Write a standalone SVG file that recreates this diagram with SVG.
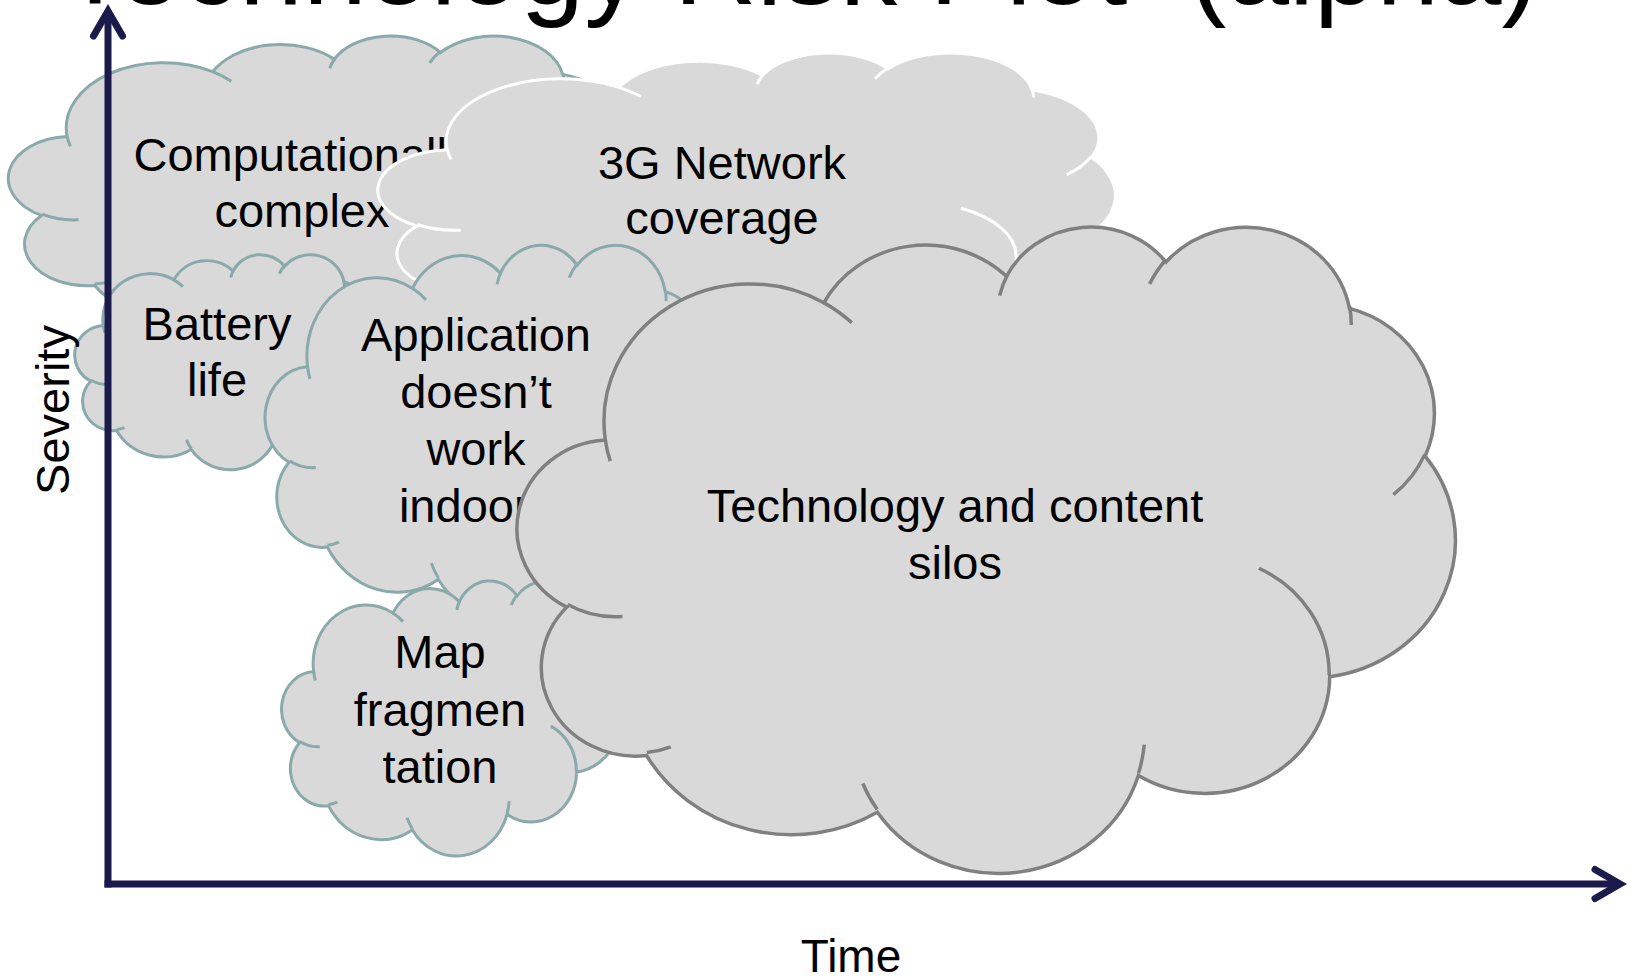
<svg xmlns="http://www.w3.org/2000/svg" xmlns:xlink="http://www.w3.org/1999/xlink" width="1635" height="978" viewBox="0 0 1635 978">
<style>
  .label { font-family: "Liberation Sans", Arial, sans-serif; font-size: 47px; fill: #000; text-anchor: middle; }
  .title { font-family: "Liberation Sans", Arial, sans-serif; font-size: 115px; fill: #000; }
  .axis-label { font-family: "Liberation Sans", Arial, sans-serif; fill: #000; text-anchor: middle; }
  .shape { fill: #d9d9d9; stroke-width: 3; }
  .teal .shape { stroke: #8aa9ab; }
  .white .shape { stroke: #ffffff; }
  .grey .shape { stroke: #808080; stroke-width: 3.5; }
  .axis { stroke: #1b1b4b; stroke-width: 7; fill: none; }
</style>
<defs>
  <path id="cloud-shape" vector-effect="non-scaling-stroke" d="M3900 14370 A6753 9190 0 0 1 14005 5202 A5333 7267 0 0 1 22456 3432 A4365 5945 0 0 1 29834 2481 A4857 6595 0 0 1 38319 5577 A5333 7273 0 0 1 41819 15461 A6775 9220 0 0 1 37405 30203 A5785 7867 0 0 1 28556 36814 A6752 9215 0 0 1 16482 39267 A7720 10543 0 0 1 5807 35475 A4360 5918 0 0 1 2116 25553 A4345 5945 0 0 1 3900 14370 Z"/>
  <path id="cloud-ticks" fill="none" vector-effect="non-scaling-stroke" d="M4693 26177 A4345 5945 0 0 1 2160 25380 M6928 34899 A4360 5918 0 0 1 5820 35280 M16478 39090 A6752 9215 0 0 1 15809 37347 M28827 34751 A6752 9215 0 0 1 28560 36660 M34129 22954 A5785 7867 0 0 1 37380 30090 M41798 15354 A5333 7273 0 0 1 40351 18029 M38324 5426 A4857 6595 0 0 1 38400 6690 M29078 3952 A4857 6595 0 0 1 29820 2339 M22141 4720 A4365 5945 0 0 1 22500 3330 M14000 5192 A6753 9190 0 0 1 15300 6540 M4127 15789 A6753 9190 0 0 1 3900 14370"/>
  <marker id="open-arrow" markerUnits="userSpaceOnUse" markerWidth="70" markerHeight="70" viewBox="-40 -35 70 70" refX="0" refY="0" orient="auto" overflow="visible">
    <path d="M-25,-14.5 L0,0 L-25,14.5" fill="none" stroke="#1b1b4b" stroke-width="7" stroke-linecap="round" stroke-linejoin="miter"/>
  </marker>
</defs>
<rect width="1635" height="978" fill="#ffffff"/>
<text class="title" y="4"><tspan x="60">Technology Risk Plot</tspan><tspan x="1189" textLength="350" lengthAdjust="spacingAndGlyphs">(alpha)</tspan></text>

<g id="node-computationally-complex" class="teal">
  <g class="shape" transform="translate(11,35) scale(0.014398,0.0070602)">
    <use href="#cloud-shape"/>
    <use href="#cloud-ticks"/>
  </g>
  <text class="label" x="302" y="171">Computationally</text>
  <text class="label" x="302" y="227">complex</text>
</g>

<g id="node-3g-network-coverage" class="white">
  <g class="shape" transform="translate(381,52) scale(0.016991,0.0068056)">
    <use href="#cloud-shape"/>
    <use href="#cloud-ticks"/>
  </g>
  <text class="label" x="722" y="179">3G Network</text>
  <text class="label" x="722" y="234">coverage</text>
</g>

<g id="node-battery-life" class="teal">
  <g class="shape" transform="translate(76,254) scale(0.0069907,0.0049769)">
    <use href="#cloud-shape"/>
    <use href="#cloud-ticks"/>
  </g>
  <text class="label" x="217" y="340">Battery</text>
  <text class="label" x="217" y="396">life</text>
</g>

<g id="node-application-indoors" class="teal">
  <g class="shape" transform="translate(267,244) scale(0.010394,0.0085417)">
    <use href="#cloud-shape"/>
    <use href="#cloud-ticks"/>
  </g>
  <text class="label" x="476" y="351">Application</text>
  <text class="label" x="476" y="408">doesn’t</text>
  <text class="label" x="476" y="465">work</text>
  <text class="label" x="476" y="522">indoors</text>
</g>

<g id="node-map-fragmentation" class="teal">
  <g class="shape" transform="translate(283,580) scale(0.0078472,0.0063657)">
    <use href="#cloud-shape"/>
    <use href="#cloud-ticks"/>
  </g>
  <text class="label" x="440" y="668">Map</text>
  <text class="label" x="440" y="726">fragmen</text>
  <text class="label" x="440" y="783">tation</text>
</g>

<g id="node-technology-content-silos" class="grey">
  <g class="shape" transform="translate(521,225) scale(0.021620,0.014954)">
    <use href="#cloud-shape"/>
    <use href="#cloud-ticks"/>
  </g>
  <text class="label" x="955" y="522">Technology and content</text>
  <text class="label" x="955" y="579">silos</text>
</g>

<g id="connectors">
  <line class="axis" x1="108" y1="887.5" x2="108" y2="11" marker-end="url(#open-arrow)"/>
  <line class="axis" x1="104.5" y1="884" x2="1620" y2="884" marker-end="url(#open-arrow)"/>
</g>

<g id="axis-labels">
  <text class="axis-label" font-size="47" transform="translate(69,410) rotate(-90)">Severity</text>
  <text class="axis-label" font-size="46" x="851" y="972">Time</text>
</g>
</svg>
